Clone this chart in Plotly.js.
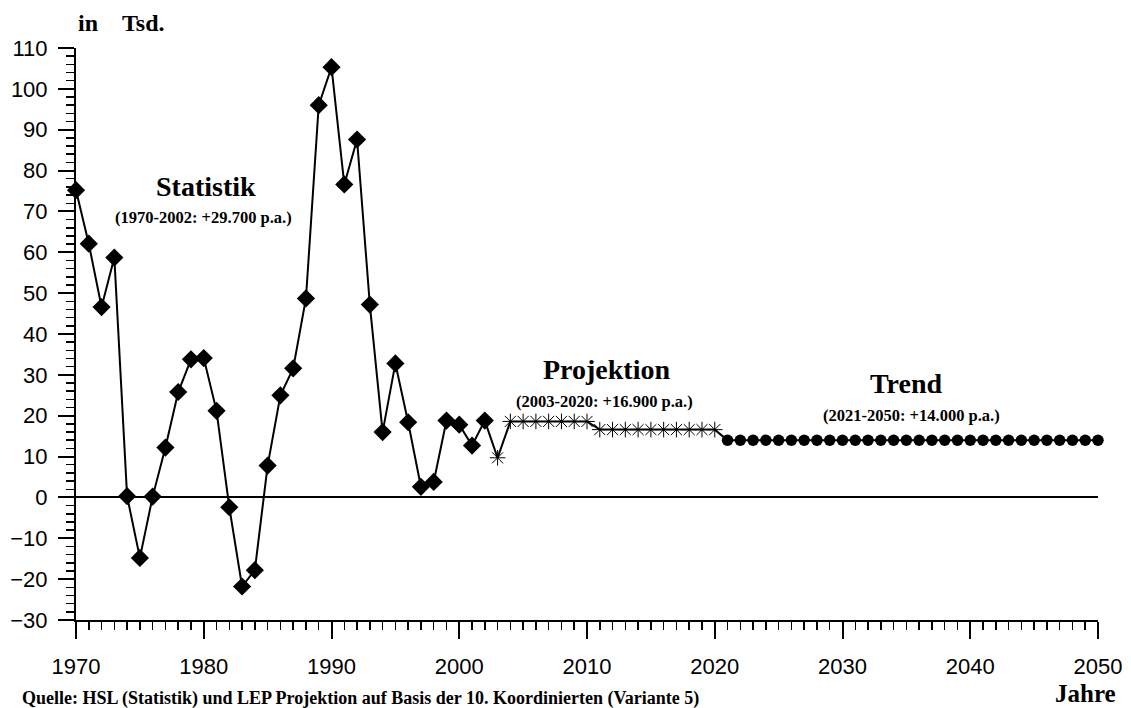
<!DOCTYPE html>
<html>
<head>
<meta charset="utf-8">
<script src="https://cdn.plot.ly/plotly-3.0.1.min.js"></script>
<style>
html,body{margin:0;padding:0;background:#fff;}
#chart{width:1131px;height:708px;}
</style>
</head>
<body>
<div id="chart"></div>
<script>
// Statistik 1970-2002 (in Tsd.)
const statYears = [1970,1971,1972,1973,1974,1975,1976,1977,1978,1979,1980,1981,1982,1983,1984,1985,1986,1987,1988,1989,1990,1991,1992,1993,1994,1995,1996,1997,1998,1999,2000,2001,2002];
const statValues = [75.2,62.1,46.6,58.7,0.3,-14.8,0.2,12.2,25.8,33.8,34.1,21.2,-2.4,-21.8,-17.8,7.8,25.0,31.6,48.7,96.0,105.3,76.6,87.6,47.2,16.0,32.8,18.4,2.6,3.8,18.8,17.8,12.7,18.8];
// Projektion 2003-2020
const projYears = [2003,2004,2005,2006,2007,2008,2009,2010,2011,2012,2013,2014,2015,2016,2017,2018,2019,2020];
const projValues = [9.7,18.6,18.6,18.6,18.6,18.6,18.6,18.6,16.6,16.6,16.6,16.6,16.6,16.6,16.6,16.6,16.6,16.6];
// Trend 2021-2050
const trendYears = [2021,2022,2023,2024,2025,2026,2027,2028,2029,2030,2031,2032,2033,2034,2035,2036,2037,2038,2039,2040,2041,2042,2043,2044,2045,2046,2047,2048,2049,2050];
const trendValues = [14,14,14,14,14,14,14,14,14,14,14,14,14,14,14,14,14,14,14,14,14,14,14,14,14,14,14,14,14,14];

const labels = {
  stat: "Statistik", statSub: "(1970-2002: +29.700 p.a.)",
  proj: "Projektion", projSub: "(2003-2020: +16.900 p.a.)",
  trend: "Trend", trendSub: "(2021-2050: +14.000 p.a.)",
  yUnit: "in&nbsp;&nbsp;&nbsp;&nbsp;Tsd.", xUnit: "Jahre",
  source: "Quelle: HSL (Statistik) und LEP Projektion auf Basis der 10. Koordinierten (Variante 5)"
};

const allYears = statYears.concat(projYears, trendYears);
const allValues = statValues.concat(projValues, trendValues);

const serif = "Liberation Serif, Times New Roman, serif";
const sans = "Liberation Sans, Arial, Helvetica, sans-serif";

const traces = [
  {x: allYears, y: allValues, type: 'scatter', mode: 'lines',
   line: {color: '#000', width: 2}, cliponaxis: false, hoverinfo: 'skip'},
  {x: statYears, y: statValues, type: 'scatter', mode: 'markers',
   marker: {symbol: 'diamond', size: 14, color: '#000'}, cliponaxis: false},
  {x: projYears, y: projValues, type: 'scatter', mode: 'markers',
   marker: {symbol: 'asterisk-open', size: 13, color: '#000', line: {color: '#000', width: 1}}, cliponaxis: false},
  {x: trendYears, y: trendValues, type: 'scatter', mode: 'markers',
   marker: {symbol: 'circle', size: 11.5, color: '#000'}, cliponaxis: false}
];

const ann = (x, y, text, size) => ({x, y, xref: 'x', yref: 'y', text: '<b>' + text + '</b>',
  showarrow: false, font: {family: serif, size, color: '#000'}});

const layout = {
  width: 1131, height: 708,
  margin: {l: 76, r: 33, t: 48, b: 88},
  paper_bgcolor: '#fff', plot_bgcolor: '#fff',
  showlegend: false,
  xaxis: {
    range: [1970, 2050], showgrid: false, zeroline: false,
    showline: true, linecolor: '#000', linewidth: 2,
    tickmode: 'linear', tick0: 1970, dtick: 10,
    ticks: 'outside', ticklen: 17, tickwidth: 2, tickcolor: '#000',
    minor: {dtick: 1, ticks: 'outside', ticklen: 8, tickwidth: 1.5, tickcolor: '#000'},
    ticklabelstandoff: 9,
    tickfont: {family: sans, size: 22, color: '#000'}
  },
  yaxis: {
    range: [-30, 110], showgrid: false,
    zeroline: true, zerolinecolor: '#000', zerolinewidth: 2,
    showline: true, linecolor: '#000', linewidth: 2,
    tickmode: 'linear', tick0: 0, dtick: 10,
    ticks: 'outside', ticklen: 16, tickwidth: 2, tickcolor: '#000',
    minor: {dtick: 2, ticks: 'outside', ticklen: 8, tickwidth: 1.5, tickcolor: '#000'},
    ticklabelstandoff: 6,
    tickfont: {family: sans, size: 22, color: '#000'}
  },
  annotations: [
    ann(1980.2, 76.1, labels.stat, 28),
    ann(1980.0, 68.6, labels.statSub, 16.5),
    ann(2011.5, 31.3, labels.proj, 28),
    ann(2011.4, 23.5, labels.projSub, 16.5),
    ann(2035.0, 27.9, labels.trend, 28),
    ann(2035.4, 20.1, labels.trendSub, 16.5),
    {x: 0, y: 1, xref: 'paper', yref: 'paper', xanchor: 'left', yanchor: 'bottom', yshift: 10,
     text: '<b>' + labels.yUnit + '</b>', showarrow: false, font: {family: serif, size: 24, color: '#000'}},
    {x: 0.988, y: 0, xref: 'paper', yref: 'paper', xanchor: 'center', yanchor: 'top', yshift: -58,
     text: '<b>' + labels.xUnit + '</b>', showarrow: false, font: {family: serif, size: 25, color: '#000'}},
    {x: -0.055, y: 0, xref: 'paper', yref: 'paper', xanchor: 'left', yanchor: 'top', yshift: -66,
     text: '<b>' + labels.source + '</b>', showarrow: false, font: {family: serif, size: 18, color: '#000'}}
  ]
};

Plotly.newPlot('chart', traces, layout, {displayModeBar: false, staticPlot: true});
</script>
</body>
</html>
